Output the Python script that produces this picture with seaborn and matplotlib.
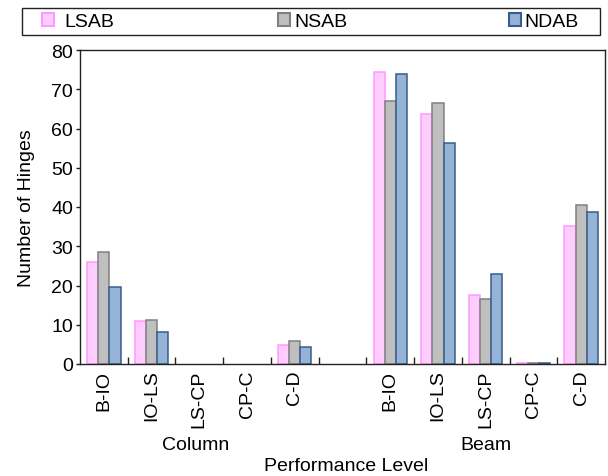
import matplotlib
matplotlib.use("Agg")
import matplotlib.pyplot as plt
from matplotlib.patches import Patch, Rectangle
from matplotlib.ticker import FixedLocator
import seaborn as sns
import pandas as pd

# ---- data ----
levels = ["B-IO", "IO-LS", "LS-CP", "CP-C", "C-D"]
groups = ["Column", "Beam"]
series = ["LSAB", "NSAB", "NDAB"]

column_lsab = [26.0, 10.9, 0.0, 0.0, 4.8]
column_nsab = [28.6, 11.1, 0.0, 0.0, 5.8]
column_ndab = [19.5, 8.1, 0.0, 0.0, 4.4]

beam_lsab = [74.4, 63.6, 17.6, 0.3, 35.1]
beam_nsab = [67.0, 66.4, 16.5, 0.3, 40.5]
beam_ndab = [73.9, 56.3, 23.0, 0.2, 38.7]

fill_colors = ["#ffccff", "#bfbfbf", "#95b3d7"]
edge_colors = ["#ff99ff", "#808080", "#385d8a"]

rows = []
for g, vals in [("Column", [column_lsab, column_nsab, column_ndab]),
                ("Beam", [beam_lsab, beam_nsab, beam_ndab])]:
    for s, v in zip(series, vals):
        for lvl, y in zip(levels, v):
            rows.append({"slot": f"{g} {lvl}", "series": s, "value": y})
df = pd.DataFrame(rows)

order = [f"Column {l}" for l in levels] + ["gap"] + [f"Beam {l}" for l in levels]

sns.set_style("white")
plt.rcParams["font.family"] = ["Liberation Sans", "DejaVu Sans"]
plt.rcParams["text.color"] = "black"
plt.rcParams["axes.labelcolor"] = "black"
plt.rcParams["xtick.color"] = "black"
plt.rcParams["ytick.color"] = "black"

FS = 14

fig = plt.figure(figsize=(6.08, 4.77), dpi=100)
ax = fig.add_axes([80 / 608, 1 - 365 / 477, (605 - 80) / 608, (365 - 51) / 477])

sns.barplot(data=df, x="slot", y="value", hue="series", order=order,
            hue_order=series, palette=fill_colors, width=0.7,
            linewidth=1.1, ax=ax, legend=False, saturation=1)

for cont, ec in zip(ax.containers, edge_colors):
    for bar in cont:
        bar.set_edgecolor(ec)
        bar.set_linewidth(1.1 if bar.get_height() > 0 else 0)

ax.set_xlim(-0.5, 10.5)
ax.set_ylim(0, 80)
ax.set_yticks(range(0, 81, 10))

labels = levels + [""] + levels
ax.set_xticks(range(len(order)))
ax.set_xticklabels(labels, rotation=90, fontsize=FS)
ax.tick_params(axis="x", which="major", length=0, pad=4)
ax.xaxis.set_minor_locator(FixedLocator([i + 0.5 for i in range(10)]))
ax.tick_params(axis="x", which="minor", direction="in", length=5,
               width=1, color="#222222", bottom=True)
ax.tick_params(axis="y", which="major", direction="out", length=3,
               width=1, color="#222222", labelsize=FS, pad=2, left=True)

for sp in ax.spines.values():
    sp.set_visible(True)
    sp.set_color("#222222")
    sp.set_linewidth(1.0)

ax.set_xlabel("")
ax.set_ylabel("Number of Hinges", fontsize=FS, labelpad=12)

# group labels and axis title
fig.text(196 / 608, 1 - 446 / 477, "Column", ha="center", va="center", fontsize=FS)
fig.text(486 / 608, 1 - 446 / 477, "Beam", ha="center", va="center", fontsize=FS)
fig.text(346 / 608, 1 - 467 / 477, "Performance Level", ha="center",
         va="center", fontsize=FS)

# legend frame
fig.patches.append(Rectangle((22 / 608, 1 - 36 / 477), (600 - 22) / 608, 27 / 477,
                             transform=fig.transFigure, fill=False,
                             edgecolor="#222222", linewidth=1.0))

handles = [Patch(facecolor=f, edgecolor=e, linewidth=1.5, label=s)
           for f, e, s in zip(fill_colors, edge_colors, series)]
legend_x = [42, 278, 509]
gaps = [0.55, 0.25, 0.2]
for h, lx, gp in zip(handles, legend_x, gaps):
    fig.legend(handles=[h], loc="center left",
               bbox_to_anchor=(lx / 608, 1 - 22.5 / 477),
               frameon=False, fontsize=FS,
               handlelength=0.6, handleheight=0.7, handletextpad=gp,
               borderpad=0, borderaxespad=0)

fig.savefig("out.png", dpi=100)
